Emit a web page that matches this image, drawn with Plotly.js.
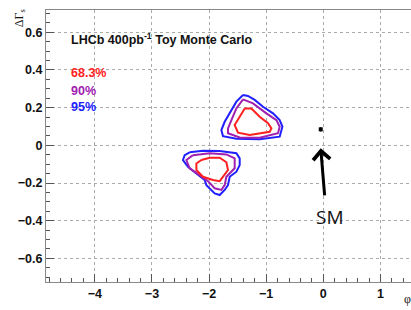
<!DOCTYPE html>
<html>
<head>
<meta charset="utf-8">
<script src="https://cdn.plot.ly/plotly-3.0.1.min.js"></script>
<style>html,body{margin:0;padding:0;background:#fff;}#chart{width:411px;height:310px;}</style>
</head>
<body>
<div id="chart"></div>
<script>
// Upper solution contours (phi_s, DeltaGamma_s)
const up95x = [-1.406,-1.319,-1.201,-1.056,-0.881,-0.764,-0.716,-0.764,-1.114,-1.522,-1.757,-1.785,-1.727,-1.639,-1.522];
const up95y = [0.267,0.262,0.241,0.205,0.170,0.134,0.099,0.046,0.032,0.035,0.049,0.081,0.125,0.170,0.232];
const up90x = [-1.406,-1.231,-0.996,-0.821,-0.764,-0.793,-1.114,-1.464,-1.669,-1.669,-1.609,-1.522];
const up90y = [0.244,0.223,0.170,0.134,0.099,0.064,0.040,0.042,0.064,0.090,0.134,0.196];
const up68x = [-1.376,-1.259,-1.114,-0.968,-0.909,-0.939,-1.289,-1.494,-1.552,-1.464];
const up68y = [0.196,0.196,0.152,0.117,0.090,0.072,0.055,0.067,0.108,0.152];
// Lower solution contours
const lo95x = [-2.340,-2.107,-1.814,-1.522,-1.464,-1.464,-1.522,-1.639,-1.669,-1.727,-1.814,-1.902,-2.047,-2.077,-2.222,-2.370,-2.457,-2.427];
const lo95y = [-0.037,-0.029,-0.030,-0.042,-0.069,-0.105,-0.140,-0.167,-0.211,-0.237,-0.264,-0.255,-0.211,-0.184,-0.149,-0.114,-0.078,-0.052];
const lo90x = [-2.282,-1.989,-1.697,-1.552,-1.552,-1.697,-1.727,-1.785,-1.902,-2.019,-2.165,-2.340,-2.398];
const lo90y = [-0.052,-0.042,-0.048,-0.069,-0.122,-0.167,-0.211,-0.237,-0.228,-0.190,-0.158,-0.122,-0.078];
const lo68x = [-2.135,-1.989,-1.814,-1.697,-1.669,-1.757,-1.814,-1.932,-2.107,-2.222,-2.222];
const lo68y = [-0.078,-0.066,-0.066,-0.090,-0.131,-0.167,-0.190,-0.184,-0.167,-0.131,-0.096];
// Standard Model point
const smX = [-0.045];
const smY = [0.085];
const smErr = [0.012];
// Arrow tail/head and label position
const arrowTail = [0.025, -0.273];
const arrowHead = [-0.045, -0.016];
const smLabel = [0.12, -0.38];
// Legend entries
const levels = ['68.3%', '90%', '95%'];
const levelColors = ['#ff2020', '#a020b0', '#2020ff'];
const levelY = [0.382, 0.290, 0.202];

function closed(a){ return a.concat([a[0]]); }

const RED = levelColors[0], PUR = levelColors[1], BLU = levelColors[2];
function line(x, y, c){
  return {x: closed(x), y: closed(y), type:'scatter', mode:'lines',
          line:{color:c, width:2}, hoverinfo:'skip', showlegend:false};
}
const traces = [
  line(up95x, up95y, BLU), line(up90x, up90y, PUR), line(up68x, up68y, RED),
  line(lo95x, lo95y, BLU), line(lo90x, lo90y, PUR), line(lo68x, lo68y, RED),
  {x: smX, y: smY, type:'scatter', mode:'markers',
   marker:{symbol:'square', size:4, color:'#000'},
   error_y:{type:'data', array:smErr, visible:true, color:'#000', thickness:1, width:0},
   showlegend:false}
];

const tickFont = {family:'Liberation Sans, Arial, sans-serif', size:12.5, color:'#111', weight:'bold'};
const annots = [
  {xref:'x', yref:'y', x:-4.46, y:0.565, xanchor:'left', yanchor:'middle', showarrow:false,
   text:'LHCb 400pb<sup>-1</sup> Toy Monte Carlo',
   font:{family:'Liberation Sans, Arial, sans-serif', size:12.5, color:'#111', weight:'bold'}},
  {xref:'x', yref:'y', x:arrowHead[0], y:arrowHead[1], ax:arrowTail[0], ay:arrowTail[1],
   axref:'x', ayref:'y', text:'', showarrow:true, arrowhead:4, arrowsize:1.1, arrowwidth:3, arrowcolor:'#000'},
  {xref:'x', yref:'y', x:smLabel[0], y:smLabel[1], showarrow:false, text:'SM',
   font:{family:'Open Sans, Liberation Sans, sans-serif', size:19, color:'#111'}},
  {xref:'paper', yref:'paper', x:-0.071, y:0.97, xanchor:'center', yanchor:'middle', textangle:-90,
   showarrow:false, text:'ΔΓ<sub>s</sub>', font:{family:'Liberation Serif, Times New Roman, serif', size:12, color:'#111'}},
  {xref:'paper', yref:'paper', x:0.975, y:-0.066, xanchor:'left', yanchor:'middle',
   showarrow:false, text:'φ<sub>s</sub>', font:{family:'Liberation Serif, Times New Roman, serif', size:12, color:'#111'}}
];
levels.forEach((t, i) => annots.push({
  xref:'x', yref:'y', x:-4.46, y:levelY[i], xanchor:'left', yanchor:'middle', showarrow:false,
  text:t, font:{family:'Liberation Sans, Arial, sans-serif', size:12.5, color:levelColors[i], weight:'bold'}
}));

const layout = {
  width:411, height:310,
  margin:{l:46, r:0, t:10, b:28, pad:0},
  paper_bgcolor:'#fff', plot_bgcolor:'#fff',
  showlegend:false,
  xaxis:{range:[-4.855, 1.535], dtick:1, tick0:0, ticks:'inside', ticklen:8, tickcolor:'#555', tickwidth:1,
         showline:true, linecolor:'#888', linewidth:1, mirror:true,
         showgrid:true, gridcolor:'#aaa', griddash:'dot', gridwidth:1, zeroline:false,
         minor:{ticks:'inside', dtick:0.2, ticklen:4, tickcolor:'#555', showgrid:false},
         tickfont:tickFont},
  yaxis:{range:[-0.7255, 0.7185], dtick:0.2, tick0:0, ticks:'inside', ticklen:8, tickcolor:'#555', tickwidth:1,
         showline:true, linecolor:'#888', linewidth:1, mirror:false,
         showgrid:true, gridcolor:'#aaa', griddash:'dot', gridwidth:1, zeroline:false,
         minor:{ticks:'inside', dtick:0.05, ticklen:4, tickcolor:'#555', showgrid:false},
         tickfont:tickFont},
  annotations: annots
};
Plotly.newPlot('chart', traces, layout, {staticPlot:true, displayModeBar:false});
</script>
</body>
</html>
